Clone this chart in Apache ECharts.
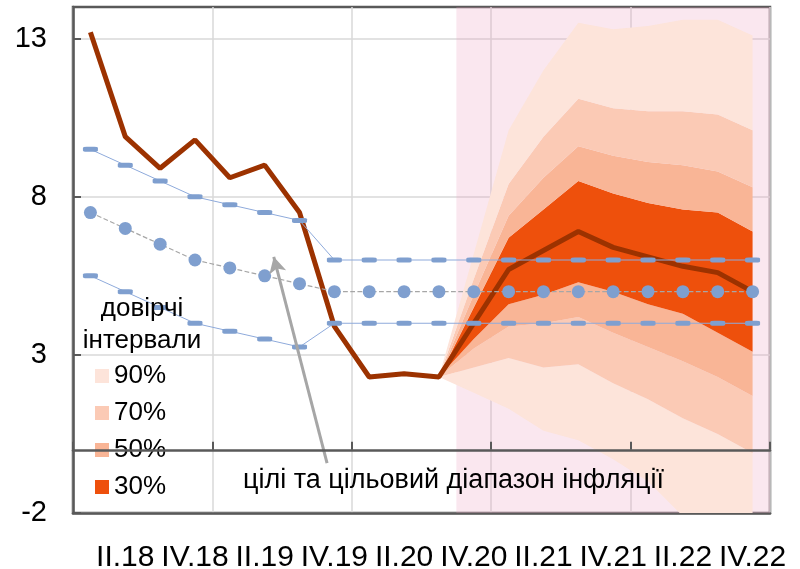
<!DOCTYPE html>
<html>
<head>
<meta charset="utf-8">
<script src="https://cdn.jsdelivr.net/npm/echarts@6/dist/echarts.min.js"></script>
<style>
  html, body { margin: 0; background: #fff; }
  #chart { width: 800px; height: 569px; }
</style>
</head>
<body>
<div id="chart"></div>
<script>
const quarters = [
  'I.18', 'II.18', 'III.18', 'IV.18', 'I.19', 'II.19', 'III.19', 'IV.19',
  'I.20', 'II.20', 'III.20', 'IV.20', 'I.21', 'II.21', 'III.21', 'IV.21',
  'I.22', 'II.22', 'III.22', 'IV.22'
]
const yTicks = [-2, 3, 8, 13]

// фактична інфляція + прогноз
const inflation = [13.2, 9.9, 8.9, 9.8, 8.6, 9.0, 7.5, 3.9, 2.3, 2.4, 2.3, 4.0, 5.7, 6.3, 6.9, 6.4, 6.1, 5.8, 5.6, 5.0]
// цілі та діапазон
const target = [7.5, 7.0, 6.5, 6.0, 5.75, 5.5, 5.25, 5, 5, 5, 5, 5, 5, 5, 5, 5, 5, 5, 5, 5]
const targetHigh = [9.5, 9.0, 8.5, 8.0, 7.75, 7.5, 7.25, 6, 6, 6, 6, 6, 6, 6, 6, 6, 6, 6, 6, 6]
const targetLow = [5.5, 5.0, 4.5, 4.0, 3.75, 3.5, 3.25, 4, 4, 4, 4, 4, 4, 4, 4, 4, 4, 4, 4, 4]

// межі довірчих інтервалів (з III.20)
const none = [null, null, null, null, null, null, null, null, null, null]
const hi90 = none.concat([2.3, 6.2, 10.1, 12.0, 13.5, 13.3, 13.4, 13.6, 13.6, 13.1])
const hi70 = none.concat([2.3, 5.4, 8.4, 9.9, 11.1, 10.8, 10.7, 10.7, 10.6, 10.1])
const hi50 = none.concat([2.3, 4.9, 7.4, 8.6, 9.6, 9.3, 9.1, 9.0, 8.8, 8.3])
const hi30 = none.concat([2.3, 4.5, 6.7, 7.6, 8.5, 8.1, 7.8, 7.6, 7.5, 6.9])
const lo30 = none.concat([2.3, 3.5, 4.6, 4.9, 5.3, 5.0, 4.6, 4.3, 3.7, 3.1])
const lo50 = none.concat([2.3, 3.2, 3.9, 4.0, 4.2, 3.7, 3.25, 2.8, 2.3, 1.7])
const lo70 = none.concat([2.3, 2.6, 2.9, 2.6, 2.7, 2.1, 1.6, 1.0, 0.5, -0.1])
const lo90 = none.concat([2.3, 1.8, 1.3, 0.6, 0.3, -0.3, -1.0, -2.1, -2.6, -3.0])

const forecastSpan = [11, 20]
const arrowLine = [[7.29, -0.42], [5.76, 6.1]]

const bandColors = {
  '90%': '#fde4da',
  '70%': '#fbcab5',
  '50%': '#f9b596',
  '30%': '#ee500c'
}

const fontFamily = '"Liberation Sans", Arial, sans-serif'

function gap(from, to) {
  return from.map((v, i) => (v == null ? null : +(to[i] - v).toFixed(3)))
}

const fanLayers = [
  ['90%', lo90, lo70],
  ['70%', lo70, lo50],
  ['50%', lo50, lo30],
  ['30%', lo30, hi30],
  ['50%', hi30, hi50],
  ['70%', hi50, hi70],
  ['90%', hi70, hi90]
]

const fanSeries = [
  {
    name: 'base',
    type: 'line',
    stack: 'fan',
    stackStrategy: 'all',
    data: lo90,
    symbol: 'none',
    lineStyle: { opacity: 0 },
    z: 2,
    silent: true
  }
].concat(fanLayers.map(([name, from, to]) => ({
  name,
  type: 'line',
  stack: 'fan',
  stackStrategy: 'all',
  data: gap(from, to),
  symbol: 'none',
  color: bandColors[name],
  lineStyle: { width: 0 },
  areaStyle: { color: bandColors[name], opacity: 1 },
  z: 2,
  silent: true
})))

const chart = echarts.init(document.getElementById('chart'))

chart.setOption({
  animation: false,
  textStyle: { fontFamily },
  grid: {
    left: 73, right: 30, top: 7, bottom: 56,
    outerBoundsMode: 'none',
    containLabel: false,
    show: true,
    borderColor: '#595959',
    borderWidth: 2.5,
    backgroundColor: 'transparent'
  },
  legend: {
    data: ['90%', '70%', '50%', '30%'],
    orient: 'vertical',
    left: 90,
    top: 358,
    icon: 'rect',
    itemWidth: 14,
    itemHeight: 14,
    itemGap: 11,
    selectedMode: false,
    textStyle: { fontSize: 26, color: '#000', fontFamily }
  },
  graphic: [
    {
      type: 'text',
      x: 142,
      y: 293,
      z: 100,
      style: {
        text: 'довірчі\nінтервали',
        textAlign: 'center',
        fontSize: 26,
        lineHeight: 32,
        fill: '#000',
        fontFamily
      }
    },
    {
      type: 'text',
      x: 243,
      y: 467,
      z: 100,
      style: {
        text: 'цілі та цільовий діапазон інфляції',
        fontSize: 27,
        fill: '#000',
        fontFamily
      }
    }
  ],
  xAxis: [
    {
      type: 'category',
      data: quarters,
      position: 'bottom',
      axisLine: { onZero: false, lineStyle: { color: '#595959', width: 2.5 } },
      axisTick: { show: false },
      axisLabel: {
        interval: (i) => i % 2 === 1,
        fontSize: 30,
        color: '#000',
        margin: 30,
        fontFamily
      },
      splitLine: { show: true, interval: 3, lineStyle: { color: '#d9d9d9', width: 1.5 } }
    },
    {
      type: 'category',
      data: quarters,
      position: 'bottom',
      z: 6,
      axisLine: { onZero: true, lineStyle: { color: '#595959', width: 2.5 } },
      axisTick: { show: true, inside: true, length: 8, interval: 3, lineStyle: { color: '#595959', width: 2 } },
      axisLabel: { show: false },
      splitLine: { show: false }
    },
    { type: 'value', min: 0, max: 20, show: false }
  ],
  yAxis: {
    type: 'value',
    min: -2,
    max: 14,
    axisLine: { show: true, onZero: false, lineStyle: { color: '#595959', width: 2.5 } },
    axisTick: { show: true, inside: true, length: 8, customValues: yTicks, lineStyle: { color: '#595959', width: 2 } },
    axisLabel: { customValues: yTicks, fontSize: 29, color: '#000', margin: 26, fontFamily },
    splitLine: { show: true, lineStyle: { color: '#d9d9d9', width: 1.5 } }
  },
  series: [
    {
      name: 'forecast',
      type: 'line',
      xAxisIndex: 2,
      data: [],
      z: 1,
      silent: true,
      markArea: {
        silent: true,
        itemStyle: { color: 'rgba(235, 160, 192, 0.25)' },
        data: [[{ xAxis: forecastSpan[0] }, { xAxis: forecastSpan[1] }]]
      },
      markLine: {
        silent: true,
        symbol: ['none', 'arrow'],
        symbolSize: [13, 16],
        label: { show: false },
        lineStyle: { color: '#a6a6a6', width: 3, type: 'solid' },
        data: [[{ coord: arrowLine[0] }, { coord: arrowLine[1] }]]
      }
    },
    ...fanSeries,
    {
      name: 'inflation',
      type: 'line',
      data: inflation,
      symbol: 'none',
      lineStyle: { color: '#9c3200', width: 5 },
      z: 3
    },
    {
      name: 'targetHigh',
      type: 'line',
      data: targetHigh,
      symbol: 'roundRect',
      symbolSize: [15, 5],
      itemStyle: { color: '#7f9fcf' },
      lineStyle: { color: '#8eaadb', width: 1 },
      z: 4
    },
    {
      name: 'targetLow',
      type: 'line',
      data: targetLow,
      symbol: 'roundRect',
      symbolSize: [15, 5],
      itemStyle: { color: '#7f9fcf' },
      lineStyle: { color: '#8eaadb', width: 1 },
      z: 4
    },
    {
      name: 'target',
      type: 'line',
      data: target,
      symbol: 'circle',
      symbolSize: 13,
      itemStyle: { color: '#7f9fcf' },
      lineStyle: { color: '#a6a6a6', width: 1.2, type: 'dashed' },
      z: 4
    }
  ]
})
</script>
</body>
</html>
